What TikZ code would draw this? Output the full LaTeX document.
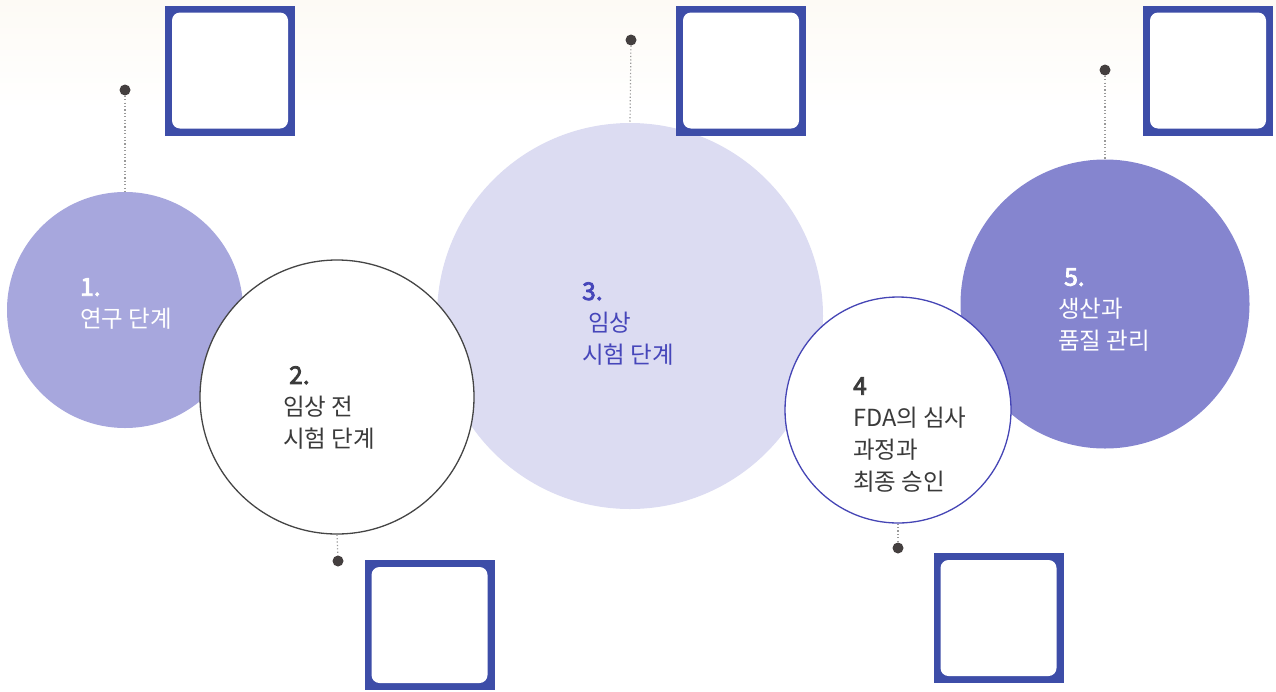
\documentclass[tikz,border=0pt]{standalone}
\usepackage{fontspec}
\setmainfont{Noto Sans CJK KR}
\usetikzlibrary{shapes.geometric}
\definecolor{cA}{HTML}{A7A7DD}
\definecolor{cC}{HTML}{DCDCF2}
\definecolor{cE}{HTML}{8585CF}
\definecolor{blueline}{HTML}{4545B5}
\definecolor{grayline}{HTML}{454545}
\definecolor{boxblue}{HTML}{3D4DA8}
\definecolor{dotc}{HTML}{443F3F}
\definecolor{txtblue}{HTML}{4646BA}
\definecolor{txtgray}{HTML}{3A3A3A}
\definecolor{bgpeach}{HTML}{FDFAF5}
\tikzset{
  circ/.style={circle, inner sep=0pt, minimum size=#1},
  pin dot/.style={circle, fill=dotc, inner sep=0pt, minimum size=11pt},
  dotline/.style={draw=gray!80, line width=1.2pt, dash pattern=on 1.2pt off 2.2pt},
  outerbox/.style={fill=boxblue, inner sep=0pt, minimum size=130pt},
  innerbox/.style={fill=white, rounded corners=8pt, inner sep=0pt, minimum size=116pt},
  label/.style={anchor=north west, inner sep=0pt, align=left, font=\fontsize{23.5}{32}\selectfont}
}
\newcommand{\nbig}[1]{{\fontsize{24.5}{32}\selectfont\special{pdf:literal direct 2 Tr 0.8 w}#1\special{pdf:literal direct 0 Tr}}}
\begin{document}
\begin{tikzpicture}[x=1pt,y=-1pt]
\useasboundingbox (0,0) rectangle (1276,691);
\shade[top color=bgpeach, bottom color=white] (0,0) rectangle (1276,110);
% circles
\node[circ=236pt, fill=cA] (c1) at (125,310) {};
\node[circ=386pt, fill=cC] (c3) at (630,316) {};
\node[circ=274pt, fill=white, draw=grayline, line width=1.3pt] (c2) at (337,397) {};
\node[circ=289pt, fill=cE] (c5) at (1105,304) {};
\node[circ=226pt, fill=white, draw=blueline, line width=1.3pt] (c4) at (898,410) {};
% dots
\node[pin dot] (d1) at (125,90) {};
\node[pin dot] (d2) at (338,561) {};
\node[pin dot] (d3) at (631,40) {};
\node[pin dot] (d4) at (898,548) {};
\node[pin dot] (d5) at (1105,70) {};
\draw[dotline] (d1) -- (c1.north);
\draw[dotline] (c2.south) -- (d2);
\draw[dotline] (d3) -- (c3.north);
\draw[dotline] (c4.south) -- (d4);
\draw[dotline] (d5) -- (c5.north);
% boxes
\node[outerbox] (s1) at (230,70.5) {};
\node[innerbox] (s1i) at (s1) {};
\node[outerbox] (s2) at (741,70.5) {};
\node[innerbox] (s2i) at (s2) {};
\node[outerbox] (s3) at (1208,70.5) {};
\node[innerbox] (s3i) at (s3) {};
\node[outerbox] (s4) at (429.5,625) {};
\node[innerbox] (s4i) at (s4) {};
\node[outerbox] (s5) at (998.5,618) {};
\node[innerbox] (s5i) at (s5) {};
% labels
\node[label, text=white] (t1) at (80,278) {\nbig{1.}\\연구 단계};
\node[label, text=txtgray] (t2) at (283,366) {\nbig{\hspace*{6pt}2.}\\임상 전\\시험 단계};
\node[label, text=txtblue] (t3) at (582,282) {\nbig{3.}\\\hspace*{6pt}임상\\시험 단계};
\node[label, text=txtgray] (t4) at (853,377) {\nbig{4}\\FDA의 심사\\과정과\\최종 승인};
\node[label, text=white] (t5) at (1058,268) {\nbig{\hspace*{6pt}5.}\\생산과\\품질 관리};
\end{tikzpicture}
\end{document}
